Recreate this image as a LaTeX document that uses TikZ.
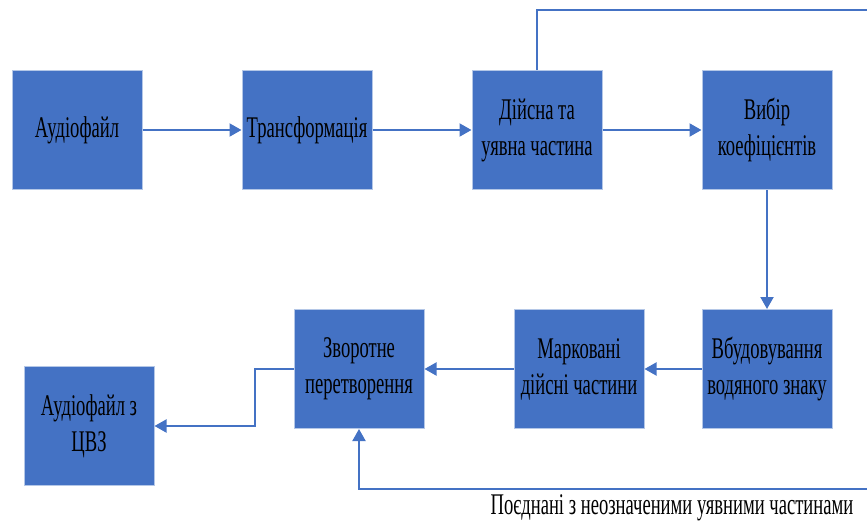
\documentclass[tikz,border=0pt]{standalone}
\usepackage{fontspec}
\setmainfont[FakeStretch=0.62]{Liberation Serif}
\usepackage{tikz}
\usetikzlibrary{arrows.meta,positioning}

\definecolor{blokfill}{HTML}{4472C4}
\definecolor{blokedge}{HTML}{B4C7E7}
\definecolor{liniya}{HTML}{4472C4}

\begin{document}
\begin{tikzpicture}[x=1pt, y=-1pt, >={Triangle[length=12pt,width=13pt]},
  blok/.style={draw=blokedge, line width=1pt, fill=blokfill, minimum width=130pt,
    minimum height=119pt, inner sep=2pt, align=center,
    font=\fontsize{30}{36}\selectfont},
  strilka/.style={->, liniya, line width=2pt},
  tonka/.style={liniya, line width=1.5pt}]
\useasboundingbox (0,0) rectangle (867,525);

% Top row
\node[blok] (audio) at (77,130) {Аудіофайл};
\node[blok] (transf) at (307,130) {Трансформація};
\node[blok] (parts) at (537,130) {Дійсна та\\уявна частина};
\node[blok] (vybir) at (767,130) {Вибір\\коефіцієнтів};

% Bottom row
\node[blok] (vbud) at (767,369) {Вбудовування\\водяного знаку};
\node[blok] (mark) at (579,369) {Марковані\\дійсні частини};
\node[blok] (zvor) at (359,369) {Зворотне\\перетворення};
\node[blok] (result) at (89,426) {Аудіофайл з\\ЦВЗ};

% Free ends at the right edge
\coordinate (topr) at (867,10);
\coordinate (botr) at (867,489);

% Arrows
\draw[strilka] (audio) -- (transf);
\draw[strilka] (transf) -- (parts);
\draw[strilka] (parts) -- (vybir);
\draw[strilka] (vybir) -- (vbud);
\draw[strilka] (vbud) -- (mark);
\draw[strilka] (mark) -- (zvor);
\draw[strilka] (zvor.west) -- ++(-39,0) |- (result.east);
\draw[tonka] (parts.north) |- (topr);
\draw[strilka] (botr) -| (zvor.south);

% Label under the return line
\node[font=\fontsize{30}{36}\selectfont] (poyed) at (672,508) {Поєднані з неозначеними уявними частинами};
\end{tikzpicture}
\end{document}
